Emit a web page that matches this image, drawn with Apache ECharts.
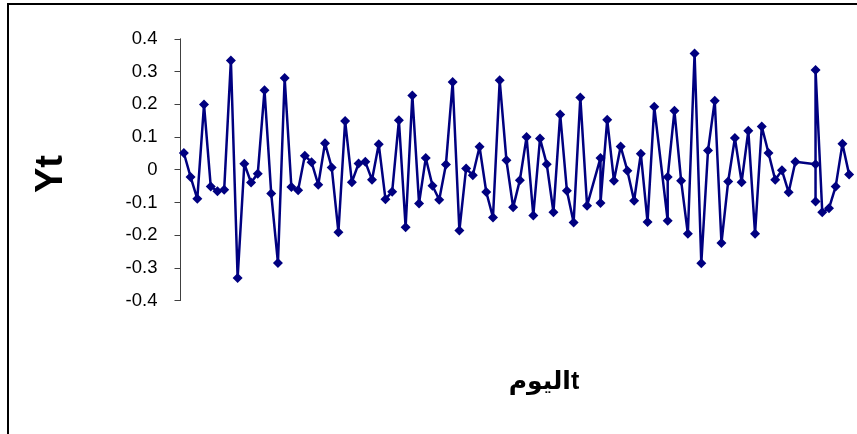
<!DOCTYPE html>
<html>
<head>
<meta charset="utf-8">
<script src="https://cdn.jsdelivr.net/npm/echarts@6/dist/echarts.min.js"></script>
<style>
html,body{margin:0;padding:0;background:#fff;}
#c{width:857px;height:434px;}
</style>
</head>
<body>
<div id="c"></div>
<script>
// day index t (Excel date-style axis: repeated days share a position, missing days leave a gap)
var days = [1,2,3,4,5,6,7,8,9,10,11,12,13,14,15,16,17,18,19,20,
  21,22,23,24,25,26,27,28,29,30,31,32,33,34,35,36,37,38,39,40,
  41,42,43,44,45,46,47,48,49,50,51,52,53,54,55,56,57,58,59,60,
  61,63,63,64,65,66,67,68,69,70,71,73,73,74,75,76,77,78,79,80,
  81,82,83,84,85,86,87,88,89,90,91,92,95,95,95,96,97,98,99,100];
var yt = [0.051,-0.022,-0.089,0.199,-0.051,-0.066,-0.061,0.334,-0.331,0.018,
  -0.039,-0.012,0.243,-0.073,-0.285,0.280,-0.053,-0.063,0.043,0.023,
  -0.046,0.081,0.007,-0.191,0.149,-0.038,0.019,0.024,-0.031,0.078,
  -0.090,-0.067,0.151,-0.176,0.227,-0.103,0.036,-0.049,-0.092,0.016,
  0.268,-0.186,0.004,-0.017,0.070,-0.068,-0.146,0.273,0.029,-0.115,
  -0.032,0.100,-0.140,0.095,0.017,-0.130,0.169,-0.064,-0.161,0.221,
  -0.110,0.036,-0.102,0.153,-0.034,0.071,-0.003,-0.095,0.049,-0.160,
  0.192,-0.156,-0.022,0.180,-0.034,-0.196,0.355,-0.286,0.059,0.211,
  -0.224,-0.036,0.097,-0.038,0.119,-0.196,0.132,0.051,-0.031,-0.002,
  -0.069,0.024,0.017,-0.097,0.305,-0.130,-0.118,-0.051,0.079,-0.015];
var yTicks = [-0.4,-0.3,-0.2,-0.1,0,0.1,0.2,0.3,0.4];
var yTitle = 'Yt';
var xTitle = 'اليومt';

var pts = days.map(function(d,i){return [d, yt[i]];});
var chart = echarts.init(document.getElementById('c'), null, {renderer:'canvas'});
chart.setOption({
  animation:false,
  backgroundColor:'#ffffff',
  grid:{left:180.5, top:38.8, width:672, height:261.8, containLabel:false},
  xAxis:{type:'value', min:0.5, max:100.5, show:true,
    axisLine:{show:false}, axisTick:{show:false}, axisLabel:{show:false}, splitLine:{show:false}},
  yAxis:{type:'value', min:yTicks[0], max:yTicks[yTicks.length-1], interval:0.1,
    axisLine:{show:true, lineStyle:{color:'#404040', width:1}},
    axisTick:{show:true, inside:false, length:6, lineStyle:{color:'#404040'}},
    axisLabel:{show:true, margin:23, color:'#000', fontSize:18.5, fontFamily:'Liberation Sans, Arial, sans-serif',
      formatter:function(v){return String(Math.round(v*10)/10);}},
    splitLine:{show:false}},
  series:[{type:'line', data:pts, symbol:'diamond', symbolSize:10, showSymbol:true,
    lineStyle:{color:'#000080', width:2.5}, itemStyle:{color:'#000080'}, z:3}],
  graphic:[
    {type:'rect', shape:{x:8, y:4, width:900, height:500}, style:{fill:'none', stroke:'#000', lineWidth:2}, z:-1},
    {type:'text', x:51.5, y:174, rotation:Math.PI/2, style:{text:yTitle, font:'bold 38px "Liberation Sans", Arial, sans-serif', fill:'#000', textAlign:'center', textVerticalAlign:'middle'}},
    {type:'text', x:544, y:382, style:{text:xTitle, font:'bold 25px "Liberation Sans", "DejaVu Sans", Arial, sans-serif', fill:'#000', textAlign:'center', textVerticalAlign:'middle'}}
  ]
});
</script>
</body>
</html>
